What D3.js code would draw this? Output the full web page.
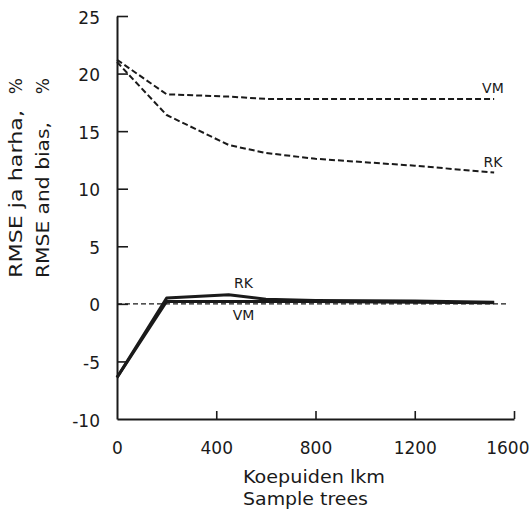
<!DOCTYPE html>
<html>
<head>
<meta charset="utf-8">
<script src="https://cdn.jsdelivr.net/npm/d3@7"></script>
<style>
  html, body { margin: 0; padding: 0; background: #fff; }
  svg { display: block; }
  text { font-family: "DejaVu Sans", sans-serif; fill: #1a1a1a; }
</style>
</head>
<body>
<svg id="chart" width="532" height="514"></svg>
<script>
// ---- data ----
const sampleTrees = [0, 200, 450, 600, 800, 1200, 1520];
const rmseVM = [21.2, 18.2, 18.0, 17.8, 17.8, 17.8, 17.8];
const rmseRK = [21.0, 16.4, 13.8, 13.1, 12.6, 12.0, 11.4];
const biasRK = [-6.4, 0.5, 0.8, 0.4, 0.3, 0.25, 0.15];
const biasVM = [-6.4, 0.2, 0.2, 0.2, 0.2, 0.15, 0.1];
const zeroLine = [0, 1580];
const xTicks = [0, 400, 800, 1200, 1600];
const yTicks = [-10, -5, 0, 5, 10, 15, 20, 25];
const xTitle = ["Koepuiden lkm", "Sample trees"];
const yTitle = ["RMSE ja harha,", "RMSE and bias,"];

const svg = d3.select("#chart");
const x = d3.scaleLinear().domain([0, 1600]).range([117, 514]);
const y = d3.scaleLinear().domain([-10, 25]).range([419, 16]);
const ink = "#1a1a1a";

// axes
const gx = svg.append("g").attr("transform", `translate(0,${y(-10)})`)
  .call(d3.axisBottom(x).tickValues(xTicks).tickSizeInner(-8).tickSizeOuter(0).tickPadding(23).tickFormat(d => String(d)));
const gy = svg.append("g").attr("transform", `translate(${x(0)},0)`)
  .call(d3.axisLeft(y).tickValues(yTicks).tickSizeInner(-11).tickSizeOuter(0).tickPadding(17).tickFormat(d => String(d)));
[gx, gy].forEach(g => {
  g.select(".domain").attr("stroke", ink).attr("stroke-width", 2);
  g.selectAll(".tick line").attr("stroke", ink).attr("stroke-width", 1.6);
  g.selectAll(".tick text").attr("fill", ink).style("font-size", "17px").style("font-family", "DejaVu Sans, sans-serif");
});
gy.selectAll(".tick text").attr("dy", "0.42em");
gx.selectAll(".tick").filter(d => d === 0).select("line").remove();
gy.selectAll(".tick").filter(d => d === -10).select("line").remove();
gx.selectAll(".tick").filter(d => d === 1600).select("text").attr("text-anchor", "end").attr("x", 15);

// zero reference
svg.append("line")
  .attr("x1", x(zeroLine[0])).attr("x2", x(zeroLine[1]))
  .attr("y1", y(0)).attr("y2", y(0))
  .attr("stroke", ink).attr("stroke-width", 1.3).attr("stroke-dasharray", "5,3");

const line = d3.line().x(d => x(d[0])).y(d => y(d[1]));
function draw(vals, dashed, w) {
  svg.append("path")
    .datum(sampleTrees.map((t, i) => [t, vals[i]]))
    .attr("d", line).attr("fill", "none").attr("stroke", ink)
    .attr("stroke-width", w).attr("stroke-linejoin", "round")
    .attr("stroke-dasharray", dashed ? "6,3" : null);
}
draw(rmseVM, true, 2);
draw(rmseRK, true, 2);
draw(biasVM, false, 3);
draw(biasRK, false, 3);

// labels
const lab = (t, xv, yv) => svg.append("text").attr("x", x(xv)).attr("y", y(yv))
  .attr("text-anchor", "middle").style("font-size", "14px").text(t);
lab("VM", 1515, 18.3);
lab("RK", 1515, 11.9);
lab("RK", 510, 1.4);
lab("VM", 510, -1.4);

// axis titles
const xtLen = [142, 125];
const xtY = [483, 505];
xTitle.forEach((t, i) => {
  svg.append("text").attr("x", 243).attr("y", xtY[i]).style("font-size", "18px")
    .attr("textLength", xtLen[i]).attr("lengthAdjust", "spacingAndGlyphs").text(t);
});

const yt = [22, 49];
const ytLen = [168, 156];
yTitle.forEach((t, i) => {
  svg.append("text").attr("transform", `translate(${yt[i]},278) rotate(-90)`)
    .style("font-size", "18px").attr("textLength", ytLen[i]).attr("lengthAdjust", "spacingAndGlyphs").text(t);
  svg.append("text").attr("transform", `translate(${yt[i]},78) rotate(-90)`)
    .attr("text-anchor", "end").style("font-size", "17px").text("%");
});
</script>
</body>
</html>
